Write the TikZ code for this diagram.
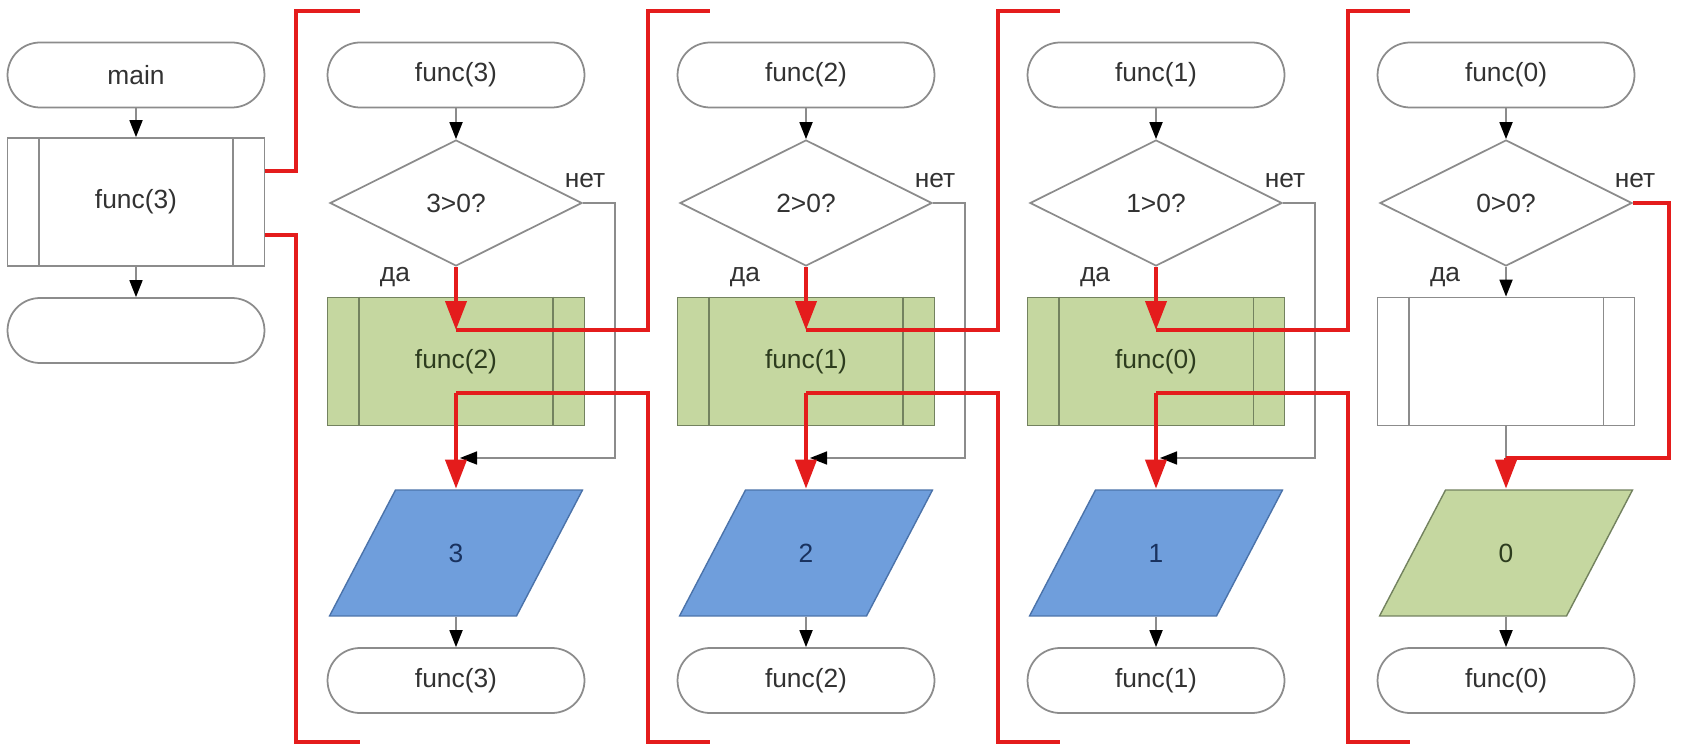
\documentclass[tikz,border=0pt]{standalone}
\usepackage{fontspec}
\setmainfont{Liberation Sans}
\usetikzlibrary{arrows.meta,shapes.geometric,calc}
\definecolor{lgray}{RGB}{140,140,140}
\definecolor{txt}{RGB}{50,50,50}
\definecolor{gfill}{RGB}{197,215,160}
\definecolor{gline}{RGB}{115,130,95}
\definecolor{gtxt}{RGB}{45,60,30}
\definecolor{bfill}{RGB}{111,158,220}
\definecolor{bline}{RGB}{75,115,170}
\definecolor{btxt}{RGB}{25,50,95}
\definecolor{rline}{RGB}{228,28,28}
\begin{document}
\begin{tikzpicture}[x=0.02cm,y=-0.02cm,
  font=\fontsize{15}{18}\selectfont, text=txt,
  every node/.style={inner sep=0pt},
  term/.style={draw=lgray,line width=1pt,fill=white,rounded corners=0.65cm,minimum width=5.14cm,minimum height=1.3cm},
  proc/.style={draw=lgray,line width=1pt,fill=white,minimum width=5.14cm,minimum height=2.56cm},
  gproc/.style={proc,draw=gline,fill=gfill,text=gtxt},
  dec/.style={diamond,draw=lgray,line width=1pt,fill=white,minimum width=5.04cm,minimum height=2.52cm,aspect=2},
  para/.style 2 args={minimum width=5.1cm,minimum height=2.56cm,
    path picture={\filldraw[fill=#1,draw=#2,line width=0.8pt]
      ($(path picture bounding box.north west)+(1.34cm,-0.02cm)$) --
      ($(path picture bounding box.north east)+(-0.02cm,-0.02cm)$) --
      ($(path picture bounding box.south east)+(-1.34cm,0.02cm)$) --
      ($(path picture bounding box.south west)+(0.02cm,0.02cm)$) -- cycle;}},
  bpara/.style={para={bfill}{bline},text=btxt},
  gpara/.style={para={gfill}{gline},text=gtxt},
  line/.style={draw=lgray,line width=1pt},
  flow/.style={line,-{Triangle[length=0.34cm,width=0.26cm,color=black]}},
  call/.style={draw=rline,line width=2.3pt},
  callarrow/.style={call,-{Triangle[length=0.58cm,width=0.42cm]}},
  lbl/.style={text=txt}
]
\fill[white] (0,0) rectangle (1682,746);
\useasboundingbox (0,0) rectangle (1682,746);

% bracket end points
\foreach \k/\cx in {1/456,2/806,3/1156,4/1506} {
  \coordinate (bt\k) at (\cx-96,11);
  \coordinate (bb\k) at (\cx-96,742);
}

% main column
\node[term] (m0) at (136,75) {main};
\node[proc] (b0) at (136,202) {func(3)};
\node[term] (e0) at (136,330.5) {};
\draw[flow] (m0) -- (b0);
\draw[flow] (b0) -- (e0);

% columns 1..3
\foreach \k/\n/\m/\cx in {1/3/2/456, 2/2/1/806, 3/1/0/1156} {
  \pgfmathtruncatemacro\nk{\k+1}
  \node[term] (t\k) at (\cx,75) {func(\n)};
  \node[dec] (d\k) at (\cx,203) {\n>0?};
  \node[gproc] (b\k) at (\cx,361.5) {func(\m)};
  \node[bpara] (p\k) at (\cx,553) {\n};
  \node[term] (e\k) at (\cx,680.5) {func(\n)};
  \node[lbl] (no\k) at (\cx+129,181) {нет};
  \node[lbl] (yes\k) at (\cx-61,277) {да};
  \coordinate (c\k) at (\cx,330);
  \coordinate (r\k) at (\cx,393);
  \coordinate (j\k) at (\cx,458);
  \draw[gline,line width=1pt] ([xshift=0.64cm]b\k.north west) -- ([xshift=0.64cm]b\k.south west)
     ([xshift=-0.64cm]b\k.north east) -- ([xshift=-0.64cm]b\k.south east);
  \draw[flow] (t\k) -- (d\k);
  \draw[flow] (d\k.east) -- ++(32,0) |- ([xshift=0.08cm]j\k);
  \draw[flow] (p\k.south) -- (e\k.north);
  \draw[call] (c\k) -- ++(192,0) |- (bt\nk);
  \draw[call] (r\k) -- ++(192,0) |- (bb\nk);
  \draw[callarrow] (d\k.south) -- (c\k);
  \draw[callarrow] (r\k) -- (p\k.north);
}

% column 4
\node[term] (t4) at (1506,75) {func(0)};
\node[dec] (d4) at (1506,203) {0>0?};
\node[proc] (b4) at (1506,361.5) {};
\node[gpara] (p4) at (1506,553) {0};
\node[term] (e4) at (1506,680.5) {func(0)};
\node[lbl] (no4) at (1506+129,181) {нет};
\node[lbl] (yes4) at (1506-61,277) {да};
\coordinate (j4) at (1506,458);
\draw[flow] (t4) -- (d4);
\draw[flow] (d4) -- (b4);
\draw[line] (b4.south) -- (j4);
\draw[flow] (p4.south) -- (e4.north);
\draw[call] (d4.east) -- ++(36,0) |- (j4);
\draw[callarrow] (j4) -- (p4.north);

% inner lines of white predefined-process boxes
\foreach \b in {b0,b4} {
  \draw[lgray,line width=1pt] ([xshift=0.64cm]\b.north west) -- ([xshift=0.64cm]\b.south west)
     ([xshift=-0.64cm]\b.north east) -- ([xshift=-0.64cm]\b.south east);
}

% main -> func(3) brackets
\draw[call] ([yshift=0.62cm]b0.east) -- ++(31,0) |- (bt1);
\draw[call] ([yshift=-0.66cm]b0.east) -- ++(31,0) |- (bb1);
\end{tikzpicture}
\end{document}
